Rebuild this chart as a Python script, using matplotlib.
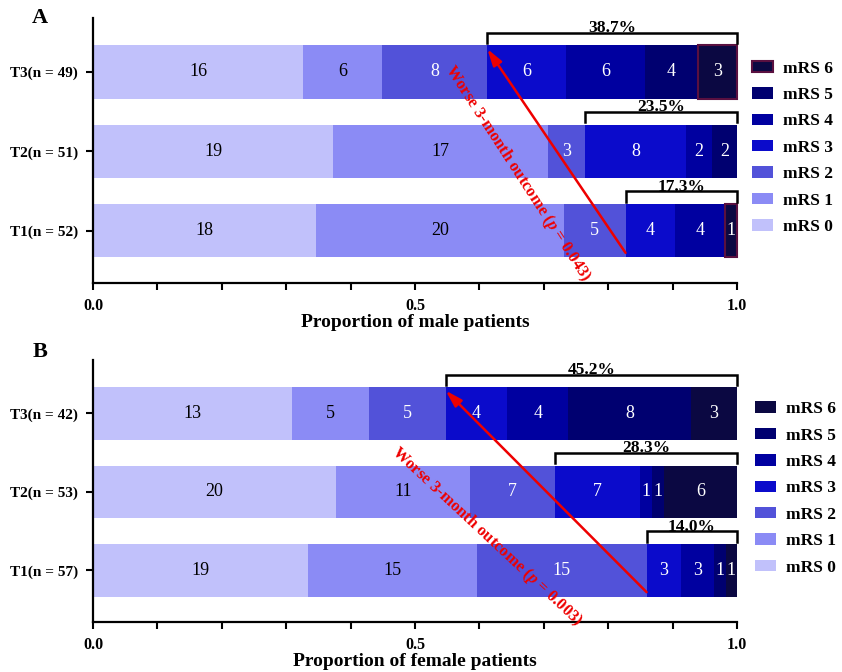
import numpy as np
import matplotlib.pyplot as plt
from matplotlib.patches import Patch

plt.rcParams['font.family'] = ['Liberation Serif', 'DejaVu Serif']
plt.rcParams['font.weight'] = 'bold'
plt.rcParams['mathtext.fontset'] = 'custom'
plt.rcParams['mathtext.it'] = 'Liberation Serif:italic:bold'
plt.rcParams['mathtext.rm'] = 'Liberation Serif:bold'

# mRS grades and their fill colours (light -> dark)
grades = ['mRS 0', 'mRS 1', 'mRS 2', 'mRS 3', 'mRS 4', 'mRS 5', 'mRS 6']
colors = ['#c1c1fb', '#8b8bf5', '#5252d9', '#0b0bcb', '#0000a0', '#000070', '#0b0842']

# male patients, rows T1..T3, columns mRS 0..6
male_groups = ['T1(n = 52)', 'T2(n = 51)', 'T3(n = 49)']
male_counts = np.array([
    [18, 20, 5, 4, 4, 0, 1],
    [19, 17, 3, 8, 2, 2, 0],
    [16, 6, 8, 6, 6, 4, 3],
])
male_pct = ['17.3%', '23.5%', '38.7%']
male_p = '0.043'

# female patients
female_groups = ['T1(n = 57)', 'T2(n = 53)', 'T3(n = 42)']
female_counts = np.array([
    [19, 15, 15, 3, 3, 1, 1],
    [20, 11, 7, 7, 1, 1, 6],
    [13, 5, 5, 4, 4, 8, 3],
])
female_pct = ['14.0%', '28.3%', '45.2%']
female_p = '0.003'

BAR_H = 0.67


def panel(ax, groups, counts, pct, pval, xlabel, edge6, txt_xy, txt_rot, leg_x):
    y = np.arange(len(groups))
    frac = counts / counts.sum(axis=1, keepdims=True)
    left = np.zeros(len(groups))
    for j in range(len(grades)):
        if j == 6 and edge6:
            ec = edge6
            lw = np.where(counts[:, j] > 0, 1.5, 0)
        else:
            ec = 'none'
            lw = 0
        ax.barh(y, frac[:, j], left=left, height=BAR_H, color=colors[j],
                edgecolor=ec, linewidth=lw, clip_on=False)
        for i in range(len(groups)):
            if counts[i, j] > 0:
                ax.text(left[i] + frac[i, j] / 2, y[i], str(counts[i, j]),
                        ha='center', va='center', fontsize=13, fontweight='normal',
                        color='black' if j < 2 else 'white')
        left = left + frac[:, j]

    # brackets over mRS 3-6
    starts = frac[:, :3].sum(axis=1)
    for i in range(len(groups)):
        top = y[i] + BAR_H / 2
        s = starts[i]
        ax.plot([s, s, 1, 1], [top + 0.03, top + 0.16, top + 0.16, top + 0.03],
                color='black', lw=1.8, clip_on=False, solid_joinstyle='miter')
        ax.text((s + 1) / 2, top + 0.12, pct[i], ha='center', va='bottom',
                fontsize=12.5, fontweight='bold')

    # trend arrow
    ax.annotate('', xy=(starts[2], 2.29), xytext=(starts[0], -0.28),
                arrowprops=dict(arrowstyle='-|>,head_width=0.3,head_length=1.0',
                                color='#ee0000', lw=1.8, shrinkA=0, shrinkB=0),
                annotation_clip=False)
    ax.text(txt_xy[0], txt_xy[1], 'Worse 3-month outcome ($p$ = ' + pval + ')',
            color='#ee0000', fontsize=12, fontweight='bold', rotation=txt_rot,
            ha='center', va='center', rotation_mode='anchor')

    ax.set_xlim(0, 1)
    ax.set_ylim(-0.66, 2.68)
    ax.set_yticks(y)
    ax.set_yticklabels(groups, fontsize=11, fontweight='bold')
    ticks = np.arange(0, 1.01, 0.1)
    ax.set_xticks(ticks)
    ax.set_xticklabels(['0.0' if abs(t) < 1e-9 else '0.5' if abs(t - 0.5) < 1e-9
                        else '1.0' if abs(t - 1) < 1e-9 else '' for t in ticks],
                       fontsize=11.5, fontweight='bold')
    ax.set_xlabel(xlabel, fontsize=14, fontweight='bold', labelpad=0)
    for sp in ['top', 'right']:
        ax.spines[sp].set_visible(False)
    for sp in ['left', 'bottom']:
        ax.spines[sp].set_linewidth(1.6)
    ax.tick_params(axis='both', width=1.5, length=5, pad=6)

    handles = []
    for j in range(len(grades) - 1, -1, -1):
        if j == 6 and edge6:
            handles.append(Patch(facecolor=colors[j], edgecolor=edge6, linewidth=1.5, label=grades[j]))
        else:
            handles.append(Patch(facecolor=colors[j], edgecolor='none', label=grades[j]))
    ax.legend(handles=handles, loc='center left', bbox_to_anchor=(leg_x, 0.51),
              frameon=False, borderpad=0, borderaxespad=0,
              handlelength=1.2, handleheight=0.63, handletextpad=0.6, labelspacing=0.6,
              prop={'weight': 'bold', 'size': 12.5})


fig = plt.figure(figsize=(8.42, 6.72), dpi=100)
ax1 = fig.add_axes([0.1105, 0.5789, 0.7648, 0.3943])
ax2 = fig.add_axes([0.1105, 0.0744, 0.7648, 0.3899])

panel(ax1, male_groups, male_counts, male_pct, male_p, 'Proportion of male patients',
      '#5a1040', (0.66, 0.72), -57, 1.023)
panel(ax2, female_groups, female_counts, female_pct, female_p, 'Proportion of female patients',
      None, (0.612, 0.43), -43, 1.028)

fig.text(0.047, 0.973, 'A', fontsize=16, fontweight='bold', ha='center', va='center')
fig.text(0.047, 0.476, 'B', fontsize=16, fontweight='bold', ha='center', va='center')

fig.savefig('out.png', dpi=100)
